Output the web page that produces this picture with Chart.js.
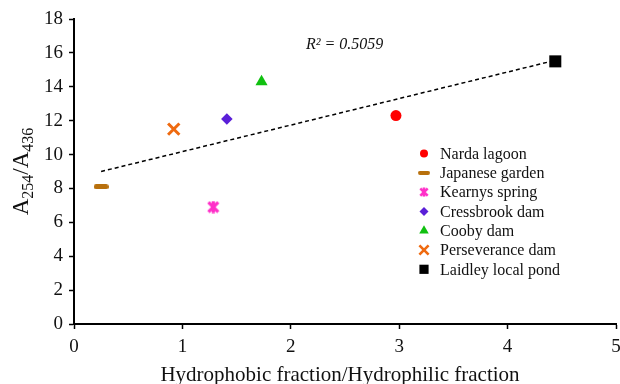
<!DOCTYPE html>
<html>
<head>
<meta charset="utf-8">
<script src="https://cdn.jsdelivr.net/npm/chart.js@4/dist/chart.umd.min.js"></script>
<style>
  html, body { margin: 0; padding: 0; background: #fff; }
  #wrap { width: 620px; height: 384px; }
</style>
</head>
<body>
<div id="wrap"><canvas id="myChart" width="620" height="384"></canvas></div>
<script>
const sites = ['Narda lagoon', 'Japanese garden', 'Kearnys spring', 'Cressbrook dam', 'Cooby dam', 'Perseverance dam', 'Laidley local pond'];
const hydroRatio = [2.97, 0.25, 1.285, 1.41, 1.73, 0.92, 4.44];
const absRatio = [12.3, 8.1, 6.9, 12.1, 14.3, 11.5, 15.5];
const siteColors = ['#ff0000', '#b8700c', '#ff2fc8', '#5a1fd8', '#10c010', '#ef6a10', '#000000'];

// trendline ends (linear fit)
const trendX = [0.25, 4.44];
const trendY = [9.0, 15.56];

const xTicks = [0, 1, 2, 3, 4, 5];
const yTicks = [0, 2, 4, 6, 8, 10, 12, 14, 16, 18];

const serif = "'Liberation Serif', 'Times New Roman', serif";

// little canvases for the dash and the asterisk markers
function dashMarker(w, h, color) {
  const c = document.createElement('canvas');
  c.width = w; c.height = h;
  const g = c.getContext('2d');
  g.fillStyle = color;
  g.beginPath();
  g.roundRect(0, 0, w, h, h / 2);
  g.fill();
  return c;
}
function starMarker(s, color, lw) {
  const c = document.createElement('canvas');
  c.width = s; c.height = s;
  const g = c.getContext('2d');
  g.strokeStyle = color;
  g.lineWidth = lw;
  const m = lw / 2;
  g.beginPath();
  g.moveTo(m, m); g.lineTo(s - m, s - m);
  g.moveTo(s - m, m); g.lineTo(m, s - m);
  g.moveTo(s / 2, 0.5); g.lineTo(s / 2, s - 0.5);
  g.stroke();
  return c;
}

const markers = [
  { pointStyle: 'circle', radius: 5.5, borderWidth: 0 },
  { pointStyle: dashMarker(15, 5, siteColors[1]), radius: 8 },
  { pointStyle: starMarker(13, siteColors[2], 3.2), radius: 7 },
  { pointStyle: 'rectRot', radius: 5.8, borderWidth: 0 },
  { pointStyle: 'triangle', radius: 7, borderWidth: 0 },
  { pointStyle: 'crossRot', radius: 8, borderWidth: 3 },
  { pointStyle: 'rect', radius: 8.5, borderWidth: 0 }
];
const legendMarkers = [
  { pointStyle: 'circle', radius: 4, borderWidth: 0 },
  { pointStyle: dashMarker(12, 4, siteColors[1]), radius: 6 },
  { pointStyle: starMarker(10, siteColors[2], 2.6), radius: 5 },
  { pointStyle: 'rectRot', radius: 4.5, borderWidth: 0 },
  { pointStyle: 'triangle', radius: 5.5, borderWidth: 0 },
  { pointStyle: 'crossRot', radius: 6.5, borderWidth: 2.6 },
  { pointStyle: 'rect', radius: 6.5, borderWidth: 0 }
];

const datasets = sites.map((name, i) => ({
  label: name,
  data: [{ x: hydroRatio[i], y: absRatio[i] }],
  backgroundColor: siteColors[i],
  borderColor: siteColors[i],
  pointStyle: markers[i].pointStyle,
  pointRadius: markers[i].radius,
  pointBorderWidth: markers[i].borderWidth || 0,
  order: 1
}));

datasets.push({
  type: 'line',
  label: 'trend',
  data: trendX.map((x, i) => ({ x: x, y: trendY[i] })),
  borderColor: '#000',
  borderWidth: 1.5,
  borderDash: [4, 3],
  pointRadius: 0,
  fill: false,
  order: 2
});

// the x axis runs almost to the right edge; tick padding would otherwise eat into it
const plotArea = {
  id: 'plotArea',
  afterLayout(chart) {
    const xs = chart.scales.x;
    xs.right = 616;
    xs.width = xs.right - xs.left;
    xs.configure();
    chart.chartArea.right = 616;
    chart.chartArea.width = 616 - chart.chartArea.left;
  }
};

// legend, axis titles and R² text
const extras = {
  id: 'extras',
  afterDraw(chart) {
    const ctx = chart.ctx;
    const area = chart.chartArea;
    ctx.save();
    ctx.fillStyle = '#111';

    // R²
    ctx.font = 'italic 16px ' + serif;
    ctx.textBaseline = 'middle';
    ctx.textAlign = 'left';
    ctx.fillText('R² = 0.5059', 306, 45);

    // legend
    ctx.font = '16px ' + serif;
    sites.forEach((name, i) => {
      const y = 153.5 + i * 19.3;
      const m = legendMarkers[i];
      ctx.fillStyle = siteColors[i];
      ctx.strokeStyle = siteColors[i];
      ctx.lineWidth = m.borderWidth || 0;
      Chart.helpers.drawPoint(ctx, { pointStyle: m.pointStyle, radius: m.radius, rotation: 0, borderWidth: m.borderWidth || 0 }, 424, y);
      ctx.fillStyle = '#111';
      ctx.fillText(name, 440, y + 1);
    });

    // x title
    ctx.font = '21px ' + serif;
    ctx.textAlign = 'center';
    ctx.textBaseline = 'alphabetic';
    ctx.fillText('Hydrophobic fraction/Hydrophilic fraction', 340, 381);

    // y title with subscripts
    ctx.translate(28, (area.top + area.bottom) / 2);
    ctx.rotate(-Math.PI / 2);
    const parts = [['A', 23, 0], ['254', 16, 5], ['/A', 23, 0], ['436', 16, 5]];
    let total = 0;
    parts.forEach(p => { ctx.font = p[1] + 'px ' + serif; total += ctx.measureText(p[0]).width; });
    let x = -total / 2;
    ctx.textAlign = 'left';
    parts.forEach(p => {
      ctx.font = p[1] + 'px ' + serif;
      ctx.fillText(p[0], x, p[2]);
      x += ctx.measureText(p[0]).width;
    });
    ctx.restore();
  }
};

const axisGrid = {
  display: true,
  drawOnChartArea: false,
  drawTicks: true,
  tickLength: 5,
  tickColor: '#000',
  tickWidth: 1.5
};

new Chart(document.getElementById('myChart'), {
  type: 'scatter',
  data: { datasets: datasets },
  options: {
    responsive: false,
    animation: false,
    layout: { padding: { left: 0, top: 19, right: 0, bottom: 0 } },
    plugins: {
      legend: { display: false },
      tooltip: { enabled: false }
    },
    scales: {
      x: {
        type: 'linear',
        min: 0,
        max: 5,
        grid: axisGrid,
        border: { display: true, color: '#000', width: 2 },
        afterBuildTicks: (scale) => { scale.ticks = xTicks.map(v => ({ value: v })); },
        ticks: { color: '#111', padding: 7, font: { family: serif, size: 19 } },
        afterFit: (scale) => { scale.height = 60; }
      },
      y: {
        type: 'linear',
        min: 0,
        max: 18,
        grid: axisGrid,
        border: { display: true, color: '#000', width: 2 },
        afterBuildTicks: (scale) => { scale.ticks = yTicks.map(v => ({ value: v })); },
        ticks: { color: '#111', padding: 6, font: { family: serif, size: 19 } },
        afterFit: (scale) => { scale.width = 74; }
      }
    }
  },
  plugins: [plotArea, extras]
});
</script>
</body>
</html>
